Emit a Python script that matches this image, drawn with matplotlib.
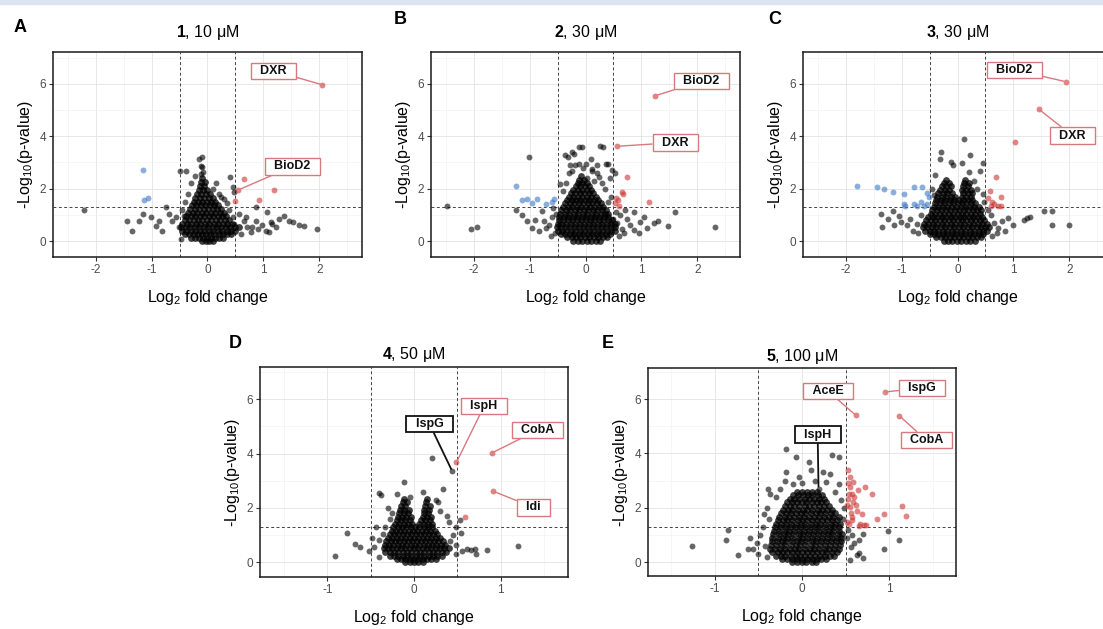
import numpy as np
import matplotlib
matplotlib.use('Agg')
import matplotlib.pyplot as plt
from matplotlib.patches import Rectangle

plt.rcParams['font.family'] = ['Liberation Sans', 'DejaVu Sans']
plt.rcParams['mathtext.fontset'] = 'custom'
plt.rcParams['mathtext.rm'] = 'Liberation Sans'
plt.rcParams['mathtext.bf'] = 'Liberation Sans:bold'
plt.rcParams['mathtext.default'] = 'regular'
plt.rcParams['axes.unicode_minus'] = False

# ---- panel A: compound 1, 10 uM ----
# dense core of the volcano, stored as rows: one y level and its x values
a_core_y = [0.02, 0.12, 0.25, 0.38, 0.52, 0.66, 0.8, 0.94, 1.08, 1.22, 1.36, 1.5, 1.65, 1.8, 1.95, 2.1, 2.25, 2.4]
a_core_x = [
    [-0.1, -0.03, 0.03, 0.1],
    [-0.3, -0.22, -0.15, -0.08, 0.0, 0.07, 0.14, 0.21, 0.28],
    [-0.4, -0.33, -0.25, -0.17, -0.09, -0.02, 0.05, 0.12, 0.2, 0.27, 0.35, 0.42],
    [-0.46, -0.38, -0.3, -0.22, -0.14, -0.06, 0.02, 0.1, 0.18, 0.26, 0.34, 0.42, 0.5],
    [-0.47, -0.39, -0.31, -0.23, -0.15, -0.07, 0.01, 0.09, 0.17, 0.25, 0.33, 0.41, 0.49, 0.56],
    [-0.45, -0.37, -0.29, -0.21, -0.13, -0.05, 0.03, 0.11, 0.19, 0.27, 0.35, 0.43],
    [-0.41, -0.33, -0.25, -0.17, -0.09, -0.01, 0.07, 0.15, 0.23, 0.31, 0.39],
    [-0.38, -0.3, -0.22, -0.14, -0.06, 0.02, 0.1, 0.18, 0.26, 0.33],
    [-0.34, -0.26, -0.18, -0.1, -0.02, 0.06, 0.14, 0.22, 0.29],
    [-0.31, -0.23, -0.15, -0.07, 0.01, 0.09, 0.17, 0.24],
    [-0.28, -0.2, -0.12, -0.04, 0.04, 0.12, 0.19],
    [-0.25, -0.17, -0.09, -0.01, 0.07, 0.14],
    [-0.22, -0.14, -0.06, 0.02, 0.09],
    [-0.19, -0.11, -0.03, 0.05],
    [-0.16, -0.08, 0.0],
    [-0.14, -0.06],
    [-0.12, -0.05],
    [-0.1],
]
a_grey = [(-2.2, 1.2), (-1.43, 0.78), (-1.34, 0.4), (-1.22, 0.78), (-1.16, 1.04), (-1.01, 0.91),
          (-0.92, 0.58), (-0.86, 0.78), (-0.82, 0.4), (-0.74, 1.29), (-0.68, 1.04), (-0.63, 0.78),
          (-0.57, 0.91), (-0.51, 0.53), (-0.48, 0.09), (-0.5, 2.68), (-0.39, 2.68), (-0.15, 3.13),
          (-0.095, 3.2), (-0.12, 2.85), (-0.09, 2.81), (-0.22, 2.49), (-0.08, 2.65), (-0.11, 2.55),
          (-0.3, 2.2), (-0.35, 1.8), (-0.4, 1.5), (-0.45, 1.2), (-0.42, 0.95), (0.4, 2.43),
          (0.45, 2.05), (0.48, 1.86), (0.1, 2.0), (0.2, 1.8), (0.3, 1.6), (0.35, 1.45), (0.25, 1.7),
          (0.15, 2.2), (0.38, 1.2), (0.45, 0.9), (0.48, 0.66), (0.56, 1.04), (0.71, 0.53), (0.77, 0.34),
          (0.6, 0.25), (0.65, 0.75), (0.86, 1.29), (1.07, 1.1), (1.04, 0.4), (1.13, 0.72), (1.37, 0.97),
          (1.46, 0.78), (1.52, 0.72), (1.64, 0.6), (1.73, 0.56), (1.96, 0.47), (0.68, 0.91), (0.8, 0.53),
          (0.86, 0.78), (1.16, 0.66), (1.22, 0.53), (1.28, 0.85), (0.98, 0.6), (0.9, 0.45), (1.1, 0.35)]
a_down = [(-1.15, 2.73), (-1.14, 1.57), (-1.07, 1.63)]
a_up = [(2.05, 5.97), (0.55, 1.95), (0.65, 2.37), (1.19, 1.96), (0.5, 1.54), (0.92, 1.58)]
a_labels = [('DXR', 2.05, 5.97), ('BioD2', 0.55, 1.95)]

# ---- panel B: compound 2, 30 uM ----
b_core_y = [0.02, 0.14, 0.27, 0.4, 0.53, 0.66, 0.79, 0.92, 1.05, 1.18, 1.31, 1.44, 1.57, 1.7, 1.83, 1.96, 2.09, 2.22, 2.35, 2.48]
b_core_x = [
    [-0.22, -0.14, -0.06, 0.02, 0.1, 0.18, 0.26],
    [-0.33, -0.25, -0.17, -0.09, -0.01, 0.07, 0.15, 0.23, 0.31, 0.38],
    [-0.44, -0.36, -0.28, -0.2, -0.12, -0.04, 0.04, 0.12, 0.2, 0.28, 0.36, 0.44],
    [-0.5, -0.42, -0.34, -0.26, -0.18, -0.1, -0.02, 0.06, 0.14, 0.22, 0.3, 0.38, 0.46, 0.53],
    [-0.51, -0.43, -0.35, -0.27, -0.19, -0.11, -0.03, 0.05, 0.13, 0.21, 0.29, 0.37, 0.45, 0.53],
    [-0.5, -0.42, -0.34, -0.26, -0.18, -0.1, -0.02, 0.06, 0.14, 0.22, 0.3, 0.38, 0.46, 0.52],
    [-0.48, -0.4, -0.32, -0.24, -0.16, -0.08, 0.0, 0.08, 0.16, 0.24, 0.32, 0.4, 0.47],
    [-0.47, -0.39, -0.31, -0.23, -0.15, -0.07, 0.01, 0.09, 0.17, 0.25, 0.33, 0.41],
    [-0.45, -0.37, -0.29, -0.21, -0.13, -0.05, 0.03, 0.11, 0.19, 0.27, 0.35, 0.41],
    [-0.43, -0.35, -0.27, -0.19, -0.11, -0.03, 0.05, 0.13, 0.21, 0.29, 0.37],
    [-0.4, -0.32, -0.24, -0.16, -0.08, 0.0, 0.08, 0.16, 0.24, 0.32],
    [-0.36, -0.28, -0.2, -0.12, -0.04, 0.04, 0.12, 0.2, 0.28],
    [-0.33, -0.25, -0.17, -0.09, -0.01, 0.07, 0.15, 0.23],
    [-0.3, -0.22, -0.14, -0.06, 0.02, 0.1, 0.18],
    [-0.26, -0.18, -0.1, -0.02, 0.06, 0.14],
    [-0.22, -0.14, -0.06, 0.02, 0.09],
    [-0.17, -0.09, -0.01, 0.06],
    [-0.14, -0.06, 0.02],
    [-0.11, -0.03],
    [-0.08],
]
b_grey = [(-2.47, 1.32), (-2.05, 0.45), (-1.93, 0.55), (-1.01, 3.2), (-1.25, 1.2), (-1.13, 1.01),
          (-1.04, 0.76), (-0.95, 0.5), (-0.77, 1.14), (-0.71, 0.5), (-0.83, 0.37), (-0.9, 0.8),
          (-0.65, 0.6), (-0.6, 0.9), (-0.58, 1.25), (-0.55, 0.3), (-0.62, 0.2), (-0.75, 0.75),
          (-0.52, 1.05), (-0.37, 3.27), (-0.24, 3.4), (-0.11, 3.6), (-0.06, 3.58), (0.26, 3.62),
          (0.32, 3.6), (-0.21, 3.34), (-0.32, 3.21), (0.09, 3.15), (-0.12, 2.96), (0.0, 2.96),
          (-0.27, 2.9), (0.36, 2.96), (0.41, 2.95), (0.12, 2.75), (0.21, 2.6), (0.48, 2.7), (0.52, 2.6),
          (0.43, 2.4), (-0.18, 2.9), (-0.24, 2.66), (0.12, 2.66), (0.03, 2.4), (-0.3, 2.6), (0.2, 2.9),
          (0.3, 2.2), (0.35, 2.0), (-0.35, 2.2), (-0.45, 2.19), (-0.4, 1.9), (0.45, 1.7), (0.4, 1.5),
          (0.25, 2.45), (-0.05, 2.8), (0.15, 2.3), (0.74, 0.85), (0.86, 1.1), (0.98, 0.72), (1.1, 0.5),
          (1.22, 0.7), (1.3, 0.76), (1.6, 1.1), (1.48, 0.59), (2.32, 0.54), (0.68, 0.3), (0.86, 0.43),
          (0.57, 0.68), (0.62, 1.0), (0.7, 1.2), (0.8, 0.6), (0.95, 0.3), (1.05, 0.9), (0.6, 0.2),
          (0.65, 0.45), (0.55, 1.1), (0.5, 0.85)]
b_down = [(-1.25, 2.11), (-1.13, 1.55), (-1.04, 1.62), (-0.86, 1.62), (-0.6, 1.49), (-0.57, 1.62),
          (-0.7, 1.4), (-0.95, 1.45)]
b_up = [(1.25, 5.55), (0.57, 3.62), (0.74, 2.44), (0.66, 1.87), (0.67, 1.8), (0.55, 1.64),
        (0.52, 1.47), (1.14, 1.49), (0.6, 1.35), (0.58, 1.55)]
b_labels = [('BioD2', 1.25, 5.55), ('DXR', 0.57, 3.62)]

# ---- panel C: compound 3, 30 uM ----
c_core_y = [0.02, 0.14, 0.27, 0.4, 0.53, 0.66, 0.79, 0.92, 1.05, 1.18, 1.31, 1.44, 1.57, 1.7, 1.83, 1.96, 2.09, 2.22, 2.35]
c_core_x = [
    [-0.25, -0.17, -0.09, -0.01, 0.07, 0.15, 0.23, 0.31],
    [-0.38, -0.3, -0.22, -0.14, -0.06, 0.02, 0.1, 0.18, 0.26, 0.34, 0.42],
    [-0.5, -0.42, -0.34, -0.26, -0.18, -0.1, -0.02, 0.06, 0.14, 0.22, 0.3, 0.38, 0.46],
    [-0.58, -0.5, -0.42, -0.34, -0.26, -0.18, -0.1, -0.02, 0.06, 0.14, 0.22, 0.3, 0.38, 0.46, 0.53],
    [-0.62, -0.54, -0.46, -0.38, -0.3, -0.22, -0.14, -0.06, 0.02, 0.1, 0.18, 0.26, 0.34, 0.42, 0.5, 0.56],
    [-0.6, -0.52, -0.44, -0.36, -0.28, -0.2, -0.12, -0.04, 0.04, 0.12, 0.2, 0.28, 0.36, 0.44, 0.52],
    [-0.56, -0.48, -0.4, -0.32, -0.24, -0.16, -0.08, 0.0, 0.08, 0.16, 0.24, 0.32, 0.4, 0.48],
    [-0.52, -0.44, -0.36, -0.28, -0.2, -0.12, -0.04, 0.04, 0.12, 0.2, 0.28, 0.36, 0.44],
    [-0.48, -0.4, -0.32, -0.24, -0.16, -0.08, 0.0, 0.08, 0.16, 0.24, 0.32, 0.4],
    [-0.45, -0.37, -0.29, -0.21, -0.13, -0.05, 0.03, 0.11, 0.19, 0.27, 0.35, 0.42],
    [-0.42, -0.34, -0.26, -0.18, -0.1, -0.02, 0.06, 0.14, 0.22, 0.3, 0.38],
    [-0.4, -0.32, -0.24, -0.16, -0.08, 0.0, 0.08, 0.16, 0.24, 0.32],
    [-0.38, -0.3, -0.22, -0.14, -0.06, 0.02, 0.1, 0.18, 0.26],
    [-0.36, -0.28, -0.2, -0.12, -0.04, 0.08, 0.16, 0.24],
    [-0.34, -0.26, -0.18, -0.1, 0.1, 0.18, 0.26],
    [-0.31, -0.23, -0.15, 0.08, 0.16, 0.24],
    [-0.28, -0.2, -0.12, 0.1, 0.18],
    [-0.24, -0.16, 0.12, 0.2],
    [-0.2, 0.14],
]
c_grey = [(0.11, 3.9), (-0.29, 3.39), (-0.31, 3.13), (0.23, 3.3), (-0.08, 2.92), (0.08, 2.97),
          (0.46, 2.97), (-0.4, 2.53), (0.21, 2.64), (0.4, 2.66), (-0.12, 3.02), (0.3, 2.3), (0.35, 2.0),
          (0.45, 1.8), (-0.45, 2.0), (-0.42, 1.75), (-1.37, 1.04), (-1.16, 1.16), (-1.25, 0.85),
          (-1.34, 0.53), (-1.13, 0.6), (-1.01, 0.72), (-0.84, 0.85), (-0.72, 0.66), (-0.9, 0.6),
          (-0.8, 0.4), (-0.7, 0.3), (-0.65, 1.0), (-1.05, 0.95), (1.54, 1.15), (1.69, 1.15), (1.69, 0.6),
          (2.0, 0.63), (1.18, 0.8), (1.24, 0.87), (1.3, 0.93), (0.9, 0.87), (1.0, 0.63), (0.6, 1.0),
          (0.65, 0.7), (0.72, 0.5), (0.8, 0.75), (0.7, 0.3), (0.85, 0.4), (0.62, 0.2), (0.55, 1.2),
          (0.48, 1.5)]
c_down = [(-1.8, 2.11), (-1.43, 2.05), (-1.31, 1.98), (-1.15, 1.86), (-0.96, 1.8), (-0.78, 2.05),
          (-0.63, 2.05), (-0.96, 1.42), (-0.93, 1.33), (-0.78, 1.42), (-0.72, 1.33), (-0.54, 1.42),
          (-0.6, 1.35), (-0.51, 1.67), (-0.55, 1.85), (-0.65, 1.5)]
c_up = [(1.93, 6.09), (1.45, 5.04), (1.02, 3.77), (0.68, 2.44), (0.77, 1.68), (0.6, 1.32),
        (0.72, 1.32), (0.54, 1.64), (0.62, 1.5), (0.66, 1.4), (0.58, 1.9), (0.78, 1.35)]
c_labels = [('BioD2', 1.93, 6.09), ('DXR', 1.45, 5.04)]

# ---- panel D: compound 4, 50 uM ----
d_core_y = [0.02, 0.12, 0.25, 0.38, 0.51, 0.64, 0.77, 0.9, 1.03, 1.16, 1.29, 1.42, 1.55, 1.68, 1.81, 1.94, 2.07, 2.2, 2.33]
d_core_x = [
    [-0.1, -0.05, 0.0, 0.05, 0.1],
    [-0.2, -0.15, -0.1, -0.05, 0.0, 0.05, 0.1, 0.15, 0.2, 0.25],
    [-0.28, -0.23, -0.18, -0.13, -0.08, -0.03, 0.02, 0.07, 0.12, 0.17, 0.22, 0.27, 0.32],
    [-0.33, -0.28, -0.23, -0.18, -0.13, -0.08, -0.03, 0.02, 0.07, 0.12, 0.17, 0.22, 0.27, 0.32, 0.37],
    [-0.35, -0.3, -0.25, -0.2, -0.15, -0.1, -0.05, 0.0, 0.05, 0.1, 0.15, 0.2, 0.25, 0.3, 0.35, 0.4],
    [-0.34, -0.29, -0.24, -0.19, -0.14, -0.09, -0.04, 0.01, 0.06, 0.11, 0.16, 0.21, 0.26, 0.31, 0.36],
    [-0.32, -0.27, -0.22, -0.17, -0.12, -0.07, -0.02, 0.03, 0.08, 0.13, 0.18, 0.23, 0.28, 0.33],
    [-0.3, -0.25, -0.2, -0.15, -0.1, -0.05, 0.0, 0.05, 0.1, 0.15, 0.2, 0.25, 0.3],
    [-0.28, -0.23, -0.18, -0.13, -0.08, -0.03, 0.02, 0.07, 0.12, 0.17, 0.22, 0.27],
    [-0.26, -0.21, -0.16, -0.11, -0.06, -0.01, 0.04, 0.09, 0.14, 0.19, 0.24],
    [-0.24, -0.19, -0.14, -0.09, -0.04, 0.01, 0.06, 0.11, 0.16, 0.21],
    [-0.22, -0.17, -0.12, -0.07, -0.02, 0.06, 0.11, 0.16, 0.21],
    [-0.2, -0.15, -0.1, -0.05, 0.08, 0.13, 0.18],
    [-0.19, -0.14, -0.09, -0.04, 0.1, 0.15, 0.2],
    [-0.17, -0.12, -0.07, 0.11, 0.16],
    [-0.16, -0.11, -0.06, 0.12, 0.17],
    [-0.15, -0.1, 0.13, 0.18],
    [-0.13, -0.08, 0.14],
    [-0.12, 0.15],
]
d_grey = [(0.44, 3.36), (0.21, 3.83), (-0.12, 2.96), (0.33, 2.7), (-0.41, 2.53), (-0.38, 2.47),
          (-0.91, 0.22), (-0.78, 1.06), (-0.68, 0.69), (-0.62, 0.57), (-0.46, 0.57), (-0.4, 0.2),
          (-0.4, 0.81), (-0.44, 1.3), (-0.33, 1.3), (0.84, 0.47), (1.2, 0.6), (0.72, 0.32), (0.61, 0.5),
          (0.49, 0.64), (0.54, 1.06), (0.49, 1.3), (0.53, 1.55), (0.45, 1.0), (0.42, 0.8), (0.48, 0.3),
          (0.4, 1.5), (0.38, 1.7), (0.3, 1.9), (0.28, 2.2), (-0.25, 1.8), (-0.28, 1.6), (-0.3, 2.0),
          (-0.2, 2.5), (0.1, 2.6), (-0.05, 2.4), (0.25, 2.3), (0.66, 0.45), (0.7, 0.48), (0.55, 0.4),
          (-0.52, 0.4), (-0.48, 0.9), (-0.36, 1.05)]
d_down = []
d_up = [(0.49, 3.67), (0.9, 4.02), (0.91, 2.62), (0.59, 1.67)]
d_labels = [('IspG', 0.44, 3.36), ('IspH', 0.49, 3.67), ('CobA', 0.9, 4.02), ('Idi', 0.91, 2.62)]

# ---- panel E: compound 5, 100 uM ----
e_core_y = [0.02, 0.13, 0.25, 0.38, 0.51, 0.64, 0.77, 0.9, 1.03, 1.16, 1.29, 1.42, 1.55, 1.68, 1.81, 1.94, 2.07, 2.2, 2.33, 2.46, 2.59]
e_core_x = [
    [-0.12, -0.06, 0.0, 0.05, 0.11, 0.16],
    [-0.23, -0.17, -0.11, -0.06, 0.0, 0.06, 0.11, 0.17, 0.22, 0.28],
    [-0.3, -0.24, -0.19, -0.13, -0.07, -0.02, 0.04, 0.09, 0.15, 0.21, 0.26, 0.32, 0.37],
    [-0.34, -0.28, -0.23, -0.17, -0.11, -0.06, 0.0, 0.06, 0.11, 0.17, 0.23, 0.28, 0.34, 0.4],
    [-0.37, -0.31, -0.25, -0.2, -0.14, -0.08, -0.03, 0.03, 0.09, 0.14, 0.2, 0.26, 0.31, 0.37, 0.43],
    [-0.36, -0.3, -0.24, -0.19, -0.13, -0.07, -0.02, 0.04, 0.1, 0.15, 0.21, 0.27, 0.32, 0.38, 0.44],
    [-0.35, -0.29, -0.23, -0.18, -0.12, -0.06, -0.01, 0.05, 0.11, 0.16, 0.22, 0.28, 0.33, 0.39, 0.45],
    [-0.34, -0.28, -0.22, -0.17, -0.11, -0.05, 0.0, 0.06, 0.12, 0.17, 0.23, 0.29, 0.34, 0.4, 0.45],
    [-0.33, -0.27, -0.21, -0.16, -0.1, -0.04, 0.01, 0.07, 0.13, 0.18, 0.24, 0.3, 0.35, 0.41, 0.46],
    [-0.32, -0.26, -0.2, -0.15, -0.09, -0.03, 0.02, 0.08, 0.14, 0.19, 0.25, 0.31, 0.36, 0.42],
    [-0.31, -0.25, -0.19, -0.14, -0.08, -0.02, 0.03, 0.09, 0.15, 0.2, 0.26, 0.32, 0.37, 0.43],
    [-0.3, -0.24, -0.18, -0.13, -0.07, -0.01, 0.04, 0.1, 0.16, 0.21, 0.27, 0.33, 0.38, 0.44],
    [-0.28, -0.22, -0.17, -0.11, -0.05, 0.0, 0.06, 0.12, 0.17, 0.23, 0.29, 0.34, 0.4],
    [-0.26, -0.2, -0.15, -0.09, -0.03, 0.02, 0.08, 0.14, 0.19, 0.25, 0.31, 0.36, 0.42],
    [-0.24, -0.18, -0.13, -0.07, -0.01, 0.04, 0.1, 0.16, 0.21, 0.27, 0.33, 0.38],
    [-0.22, -0.16, -0.11, -0.05, 0.01, 0.06, 0.12, 0.18, 0.23, 0.29, 0.35],
    [-0.2, -0.14, -0.09, -0.03, 0.03, 0.08, 0.14, 0.2, 0.25, 0.31],
    [-0.17, -0.12, -0.06, 0.0, 0.05, 0.11, 0.17, 0.22, 0.28],
    [-0.14, -0.09, -0.03, 0.03, 0.08, 0.14, 0.2, 0.25],
    [-0.1, -0.05, 0.01, 0.07, 0.12, 0.18, 0.23],
    [-0.06, 0.0, 0.06, 0.11, 0.17],
]
e_grey = [(0.19, 2.71), (-1.27, 0.59), (-0.85, 1.18), (-0.87, 0.82), (-0.74, 0.27), (-0.6, 0.88),
          (-0.62, 0.51), (-0.56, 0.51), (-0.39, 2.71), (-0.37, 2.52), (-0.44, 1.78), (-0.18, 4.18),
          (-0.07, 3.87), (0.08, 3.68), (0.35, 3.93), (0.43, 3.87), (-0.18, 3.31), (-0.03, 3.13),
          (0.24, 3.31), (0.32, 3.24), (0.28, 2.94), (0.43, 2.88), (-0.1, 2.88), (0.99, 1.15),
          (1.12, 0.84), (0.94, 0.51), (0.66, 0.33), (0.63, 0.27), (0.7, 1.06), (0.66, 0.82), (0.53, 1.18),
          (0.56, 0.57), (-0.45, 1.3), (-0.48, 1.0), (-0.42, 0.6), (-0.5, 0.3), (-0.3, 2.4), (-0.25, 2.7),
          (0.0, 2.9), (0.15, 3.0), (0.38, 2.6), (0.45, 2.3), (0.48, 2.0), (0.47, 1.6), (-0.4, 2.0),
          (-0.38, 1.6), (-0.2, 3.0), (0.1, 3.4), (0.52, 0.9), (0.6, 0.7), (0.55, 0.1), (-0.4, 0.2),
          (-0.52, 0.7), (0.7, 0.15), (0.58, 1.0)]
e_down = []
e_up = [(0.62, 5.4), (0.95, 6.26), (1.12, 5.38), (0.53, 3.38), (0.55, 3.14), (0.59, 2.95), (0.55, 2.77),
        (0.72, 2.77), (0.8, 2.52), (0.64, 2.65), (0.57, 2.52), (0.53, 2.34), (0.59, 2.22), (0.55, 2.03),
        (0.63, 1.9), (0.69, 1.78), (0.57, 1.66), (0.67, 1.41), (0.71, 1.39), (0.86, 1.6), (0.94, 1.78),
        (1.15, 2.06), (1.2, 1.69), (0.74, 1.36), (0.52, 2.1), (0.54, 2.5), (0.56, 1.8), (0.52, 1.5),
        (0.6, 2.4), (0.62, 2.1), (0.53, 2.9), (0.58, 1.55), (0.65, 1.35), (0.54, 1.42)]
e_labels = [('AceE', 0.62, 5.4), ('IspG', 0.95, 6.26), ('CobA', 1.12, 5.38), ('IspH', 0.19, 2.71)]

GREY = '#000000'
RED = '#cc3333'
BLUE = '#3b78c4'
LABEL_RED = '#d9787e'


def core_points(rows_y, rows_x):
    xs, ys = [], []
    for y, row in zip(rows_y, rows_x):
        xs.extend(row)
        ys.extend([y] * len(row))
    return xs, ys


def volcano(ax, xlim, ylim, xticks, xminor, core_y, core_x, grey, down, up):
    ax.set_xlim(*xlim)
    ax.set_ylim(*ylim)
    ax.set_xticks(xticks)
    ax.set_xticks(xminor, minor=True)
    ax.set_yticks([0, 2, 4, 6])
    ax.set_yticks([1, 3, 5, 7], minor=True)
    ax.grid(which='major', color='#e3e3e3', lw=0.6)
    ax.grid(which='minor', color='#f0f0f0', lw=0.4)
    ax.set_axisbelow(True)
    ax.tick_params(which='minor', length=0)
    ax.tick_params(which='major', length=3, width=0.8, color='#333333',
                   labelcolor='#4d4d4d', labelsize=8.5, pad=2)
    for s in ax.spines.values():
        s.set_linewidth(1.1)
        s.set_color('#1a1a1a')

    for xv in (-0.5, 0.5):
        ax.axvline(xv, color='#444444', lw=0.7, ls=(0, (3, 2.5)), zorder=1)
    ax.axhline(-np.log10(0.05), color='#444444', lw=0.7, ls=(0, (3, 2.5)), zorder=1)

    # the dense core sits under the scattered proteins
    cx, cy = core_points(core_y, core_x)
    ax.scatter(cx, cy, s=24, color=GREY, alpha=0.75, lw=0, zorder=2)
    ax.scatter([p[0] for p in grey], [p[1] for p in grey], s=18, color=GREY, alpha=0.6, lw=0, zorder=2)
    if down:
        ax.scatter([p[0] for p in down], [p[1] for p in down], s=18, color=BLUE, alpha=0.6, lw=0, zorder=3)
    if up:
        ax.scatter([p[0] for p in up], [p[1] for p in up], s=18, color=RED, alpha=0.6, lw=0, zorder=3)


def tag(ax, labels, boxes, dark=()):
    for name, px, py in labels:
        tx, ty = boxes[name]
        ec = '#111111' if name in dark else LABEL_RED
        lw = 1.3 if name in dark else 1.0
        ax.annotate('  ' + name + '  ', xy=(px, py), xytext=(tx, ty), textcoords='data',
                    ha='center', va='center', fontsize=9, fontweight='bold', color='#111111',
                    bbox=dict(boxstyle='square,pad=0.18', fc='white', ec=ec, lw=lw),
                    arrowprops=dict(arrowstyle='-', color=ec, lw=lw, shrinkA=0, shrinkB=1.5),
                    zorder=6, annotation_clip=False)


W, H = 1103, 629
fig = plt.figure(figsize=(W / 100, H / 100), dpi=100)
fig.patches.append(Rectangle((0, 1 - 3.5 / H), 1, 3.5 / H, transform=fig.transFigure,
                             color='#dbe5f1', zorder=0))


def axes_px(left, top, right, bottom):
    return fig.add_axes([left / W, 1 - bottom / H, (right - left) / W, (bottom - top) / H])


top_xlim = (-2.76, 2.76)
top_ylim = (-0.61, 7.22)
top_ticks = [-2, -1, 0, 1, 2]
top_minor = [-2.5, -1.5, -0.5, 0.5, 1.5, 2.5]
bot_ticks = [-1, 0, 1]
bot_minor = [-1.5, -0.5, 0.5, 1.5]

panels = [
    dict(letter='A', title=r'$\mathbf{1}$, 10 μM', rect=(53, 52, 362, 257), xlim=top_xlim, ylim=top_ylim,
         ticks=top_ticks, minor=top_minor, data=(a_core_y, a_core_x, a_grey, a_down, a_up),
         labels=a_labels, boxes={'DXR': (1.18, 6.5), 'BioD2': (1.52, 2.85)}, dark=(),
         letter_xy=(20, 27), tpad=11),
    dict(letter='B', title=r'$\mathbf{2}$, 30 μM', rect=(431, 52, 740, 257), xlim=top_xlim, ylim=top_ylim,
         ticks=top_ticks, minor=top_minor, data=(b_core_y, b_core_x, b_grey, b_down, b_up),
         labels=b_labels, boxes={'BioD2': (2.07, 6.11), 'DXR': (1.6, 3.76)}, dark=(),
         letter_xy=(400, 20), tpad=11),
    dict(letter='C', title=r'$\mathbf{3}$, 30 μM', rect=(803, 52, 1112, 257), xlim=top_xlim, ylim=top_ylim,
         ticks=top_ticks, minor=top_minor, data=(c_core_y, c_core_x, c_grey, c_down, c_up),
         labels=c_labels, boxes={'BioD2': (1.02, 6.53), 'DXR': (2.05, 4.03)}, dark=(),
         letter_xy=(775, 20), tpad=11),
    dict(letter='D', title=r'$\mathbf{4}$, 50 μM', rect=(260, 367, 568, 577), xlim=(-1.78, 1.78),
         ylim=(-0.54, 7.18), ticks=bot_ticks, minor=bot_minor, data=(d_core_y, d_core_x, d_grey, d_down, d_up),
         labels=d_labels, boxes={'IspG': (0.18, 5.08), 'IspH': (0.81, 5.74), 'CobA': (1.43, 4.86),
                                 'Idi': (1.38, 2.02)}, dark=('IspG',),
         letter_xy=(235, 343), tpad=6),
    dict(letter='E', title=r'$\mathbf{5}$, 100 μM', rect=(648, 368, 956, 576), xlim=(-1.77, 1.77),
         ylim=(-0.5, 7.14), ticks=bot_ticks, minor=bot_minor, data=(e_core_y, e_core_x, e_grey, e_down, e_up),
         labels=e_labels, boxes={'AceE': (0.3, 6.29), 'IspG': (1.38, 6.4), 'CobA': (1.43, 4.49),
                                 'IspH': (0.18, 4.69)}, dark=('IspH',),
         letter_xy=(608, 343), tpad=5),
]

for p in panels:
    ax = axes_px(*p['rect'])
    volcano(ax, p['xlim'], p['ylim'], p['ticks'], p['minor'], *p['data'])
    tag(ax, p['labels'], p['boxes'], p['dark'])
    ax.set_title(p['title'], fontsize=11.5, pad=p['tpad'])
    ax.set_xlabel('Log$_2$ fold change', fontsize=11.5, labelpad=9)
    ax.set_ylabel('-Log$_{10}$(p-value)', fontsize=11.5, labelpad=3)
    lx, ly = p['letter_xy']
    fig.text(lx / W, 1 - ly / H, p['letter'], fontsize=13, fontweight='bold', ha='center', va='center')

fig.savefig('out.png', dpi=100)
